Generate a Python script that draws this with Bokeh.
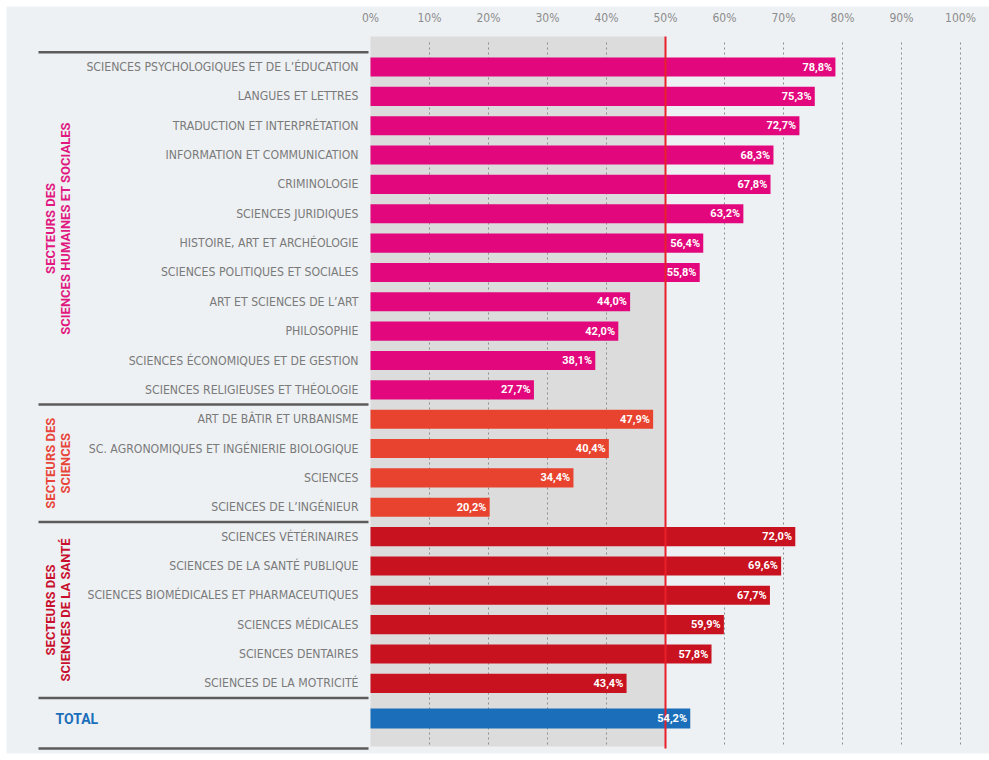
import numpy as np
from bokeh.plotting import figure
from bokeh.models import Range1d, ColumnDataSource
from bokeh.core.properties import value
from bokeh.embed import file_html
from bokeh.resources import INLINE

# ---------------- data ----------------
shs_labels = [
    "SCIENCES PSYCHOLOGIQUES ET DE L’ÉDUCATION",
    "LANGUES ET LETTRES",
    "TRADUCTION ET INTERPRÉTATION",
    "INFORMATION ET COMMUNICATION",
    "CRIMINOLOGIE",
    "SCIENCES JURIDIQUES",
    "HISTOIRE, ART ET ARCHÉOLOGIE",
    "SCIENCES POLITIQUES ET SOCIALES",
    "ART ET SCIENCES DE L’ART",
    "PHILOSOPHIE",
    "SCIENCES ÉCONOMIQUES ET DE GESTION",
    "SCIENCES RELIGIEUSES ET THÉOLOGIE",
]
shs_values = [78.8, 75.3, 72.7, 68.3, 67.8, 63.2, 56.4, 55.8, 44.0, 42.0, 38.1, 27.7]

sci_labels = [
    "ART DE BÂTIR ET URBANISME",
    "SC. AGRONOMIQUES ET INGÉNIERIE BIOLOGIQUE",
    "SCIENCES",
    "SCIENCES DE L’INGÉNIEUR",
]
sci_values = [47.9, 40.4, 34.4, 20.2]

sante_labels = [
    "SCIENCES VÉTÉRINAIRES",
    "SCIENCES DE LA SANTÉ PUBLIQUE",
    "SCIENCES BIOMÉDICALES ET PHARMACEUTIQUES",
    "SCIENCES MÉDICALES",
    "SCIENCES DENTAIRES",
    "SCIENCES DE LA MOTRICITÉ",
]
sante_values = [72.0, 69.6, 67.7, 59.9, 57.8, 43.4]

total_label = "TOTAL"
total_value = 54.2

group_titles = [
    ("SECTEURS DES", "SCIENCES HUMAINES ET SOCIALES"),
    ("SECTEURS DES", "SCIENCES"),
    ("SECTEURS DES", "SCIENCES DE LA SANTÉ"),
]

tick_values = [0, 10, 20, 30, 40, 50, 60, 70, 80, 90, 100]
tick_labels = ["0%", "10%", "20%", "30%", "40%", "50%", "60%", "70%", "80%", "90%", "100%"]
threshold = 50

# ---------------- styles / layout ----------------
W, H = 989, 760
X0_PX, PX_PER_PCT = 370.0, 5.9
ROW0_PX, ROW_STEP = 66.5, 29.35

def px_x(px):
    return (px - X0_PX) / PX_PER_PCT

def px_y(py):
    return (py - ROW0_PX) / ROW_STEP

COL_SHS = "#e2077c"
COL_SCI = "#e8432f"
COL_SANTE = "#c8121f"
COL_TOTAL = "#1b6fba"
TITLE_COLS = ["#e0187f", "#e8453a", "#c8102e"]
FONT = "'Liberation Sans Narrow', 'DejaVu Sans Condensed', Roboto, sans-serif"
BOLD_FONT = "Roboto, 'Liberation Sans', sans-serif"

groups = [(shs_labels, shs_values, COL_SHS),
          (sci_labels, sci_values, COL_SCI),
          (sante_labels, sante_values, COL_SANTE)]

labels, values, colors, ys = [], [], [], []
group_spans = []
idx = 0
for lab, val, col in groups:
    start = idx
    for l, v in zip(lab, val):
        labels.append(l)
        values.append(v)
        colors.append(col)
        ys.append(idx)
        idx += 1
    group_spans.append((start, idx - 1))
total_y = idx + 0.2

src = ColumnDataSource(dict(
    y=ys, v=values, c=colors, lab=labels,
    txt=[("%.1f" % v).replace(".", ",") + "%" for v in values],
    tx=[v - 0.55 for v in values],
    lx=[px_x(358)] * len(values),
))

p = figure(width=W, height=H,
           x_range=Range1d(px_x(0), px_x(W)),
           y_range=Range1d(px_y(H), px_y(0)),
           output_backend="svg", toolbar_location=None,
           min_border=0, x_axis_type=None, y_axis_type=None)
p.grid.visible = False
p.outline_line_color = None
p.background_fill_color = "white"
p.border_fill_color = "white"

# panel background
p.quad(left=px_x(6), right=px_x(W), top=px_y(6), bottom=px_y(753),
       fill_color="#eef1f4", line_color=None)

# gray band below threshold
p.quad(left=0, right=threshold, top=px_y(36), bottom=px_y(746),
       fill_color="#dcdcdc", line_color=None)

# dashed gridlines
grid_x = [t for t in tick_values if t not in (0, threshold)]
p.segment(x0=grid_x, y0=[px_y(42)] * len(grid_x), x1=grid_x, y1=[px_y(746)] * len(grid_x),
          line_color="#8d8d8d", line_width=1, line_dash="2 3")

# tick labels on top
p.text(x=tick_values, y=[px_y(17)] * len(tick_values), text=tick_labels,
       text_align="center", text_baseline="middle", text_color="#8c8c8c",
       text_font_size="12px", text_font=value(FONT))

# bars
p.hbar(y="y", left=0, right="v", height=0.65, fill_color="c", line_color=None, source=src)
p.hbar(y=[total_y], left=0, right=[total_value], height=0.68, fill_color=COL_TOTAL, line_color=None)

# threshold line
p.segment(x0=[threshold], y0=[px_y(36)], x1=[threshold], y1=[px_y(748)],
          line_color="#e8202a", line_width=2)

# value labels
p.text(x="tx", y="y", text="txt", source=src, text_align="right", text_baseline="middle",
       text_color="white", text_font_size="11px", text_font_style="bold",
       text_font=value(BOLD_FONT))
p.text(x=[total_value - 0.55], y=[total_y],
       text=[("%.1f" % total_value).replace(".", ",") + "%"],
       text_align="right", text_baseline="middle", text_color="white",
       text_font_size="11px", text_font_style="bold", text_font=value(BOLD_FONT))

# category labels
p.text(x="lx", y="y", text="lab", source=src, text_align="right", text_baseline="middle",
       text_color="#7a7a7a", text_font_size="12.2px", text_font=value(FONT))

# total label
p.text(x=[px_x(55)], y=[total_y], text=[total_label], text_align="left",
       text_baseline="middle", text_color=COL_TOTAL, text_font_size="14px",
       text_font_style="bold", text_font=value(BOLD_FONT))

# separators
sep_y = [-0.5] + [e + 0.5 for (_, e) in group_spans] + [px_y(748)]
p.segment(x0=[px_x(38)] * len(sep_y), y0=sep_y, x1=[px_x(368)] * len(sep_y), y1=sep_y,
          line_color="#5b5b5b", line_width=2.5)

# group titles (rotated)
for (s, e), (l1, l2), col in zip(group_spans, group_titles, TITLE_COLS):
    cy = (s + e) / 2.0
    p.text(x=[px_x(50), px_x(65)], y=[cy, cy], text=[l1, l2], angle=np.pi / 2,
           text_align="center", text_baseline="middle", text_color=col,
           text_font_size="13px", text_font_style="bold", text_font=value(BOLD_FONT))

open("out.html", "w").write(file_html(p, INLINE))
